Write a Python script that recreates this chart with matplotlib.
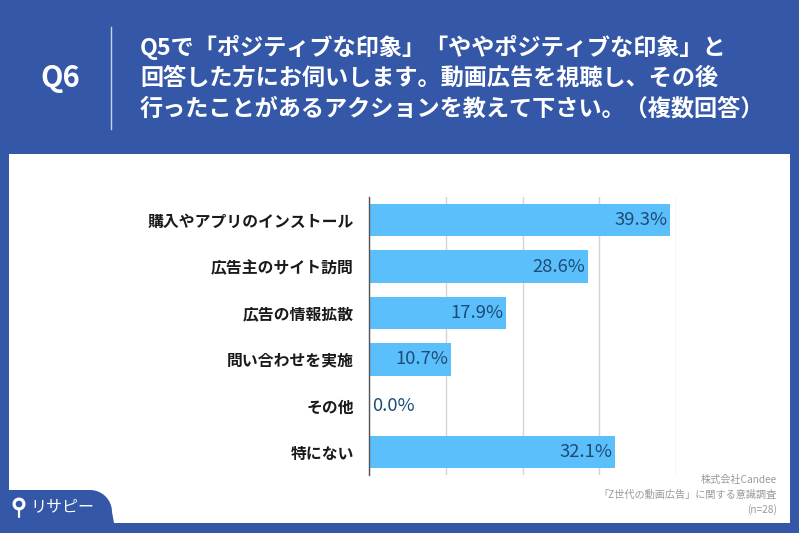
import matplotlib
matplotlib.use("Agg")
import matplotlib.pyplot as plt
from matplotlib.patches import Rectangle, Polygon, Circle
import numpy as np

plt.rcParams['font.family'] = ['Noto Sans CJK JP', 'DejaVu Sans']

categories = ["購入やアプリのインストール", "広告主のサイト訪問", "広告の情報拡散",
              "問い合わせを実施", "その他", "特にない"]
values = [39.3, 28.6, 17.9, 10.7, 0.0, 32.1]
value_labels = ["39.3%", "28.6%", "17.9%", "10.7%", "0.0%", "32.1%"]
x_ticks = [0, 10, 20, 30, 40]

title_lines = ["Q5で「ポジティブな印象」「ややポジティブな印象」と",
               "回答した方にお伺いします。動画広告を視聴し、その後",
               "行ったことがあるアクションを教えて下さい。（複数回答）"]
q_label = "Q6"
source_lines = ["株式会社Candee", "「Z世代の動画広告」に関する意識調査", "(n=28)"]
logo_text = "リサピー"

BLUE = "#3457A7"
BAR = "#5BBFFB"
VAL = "#1D4C78"

W, H = 799, 533
fig = plt.figure(figsize=(W / 100, H / 100), dpi=100)
fig.patch.set_facecolor(BLUE)

# overlay in pixel coords
bg = fig.add_axes([0, 0, 1, 1], zorder=0)
bg.set_xlim(0, W)
bg.set_ylim(H, 0)
bg.axis("off")

bg.add_patch(Rectangle((9, 154), 781, 369, facecolor="white", edgecolor="none"))

# tab in bottom-left
r = 22
theta = np.linspace(np.pi / 2, 0, 20)
arc = [(90 + r * np.cos(t), 490 + r - r * np.sin(t)) for t in theta]
tab_pts = [(0, 533), (0, 490)] + arc + [(114, 523), (114, 533)]
bg.add_patch(Polygon(tab_pts, closed=True, facecolor=BLUE, edgecolor="none"))

# logo
bg.add_patch(Circle((19, 504), 6.5, facecolor="white", edgecolor="none"))
bg.add_patch(Circle((19, 504), 3.3, facecolor=BLUE, edgecolor="none"))
bg.plot([19, 19], [510, 517], color="white", lw=1.6, solid_capstyle="round")
bg.text(30, 507, logo_text, color="white", fontsize=11.5, va="center", ha="left")

# header
bg.text(60, 78, q_label, color="white", fontsize=21, fontweight="bold",
        ha="center", va="center")
bg.plot([111, 111], [27, 129], color="#c8d2ea", lw=1)
for i, line in enumerate(title_lines):
    bg.text(140, 47 + 31 * i, line, color="white", fontsize=16.7,
            fontweight="bold", ha="left", va="center")

# source
for i, line in enumerate(source_lines):
    bg.text(777, 480 + 15 * i, line, color="#9a9a9a", fontsize=7.3,
            ha="right", va="center")

# chart
ax = fig.add_axes([369.3 / W, 1 - 475.4 / H, (675.7 - 369.3) / W, (475.4 - 197) / H],
                  zorder=1)
ax.set_facecolor("none")
y = np.arange(len(categories))
ax.barh(y, values, height=0.70, color=BAR, zorder=2)
ax.set_xlim(0, 40)
ax.set_ylim(len(categories) - 0.5, -0.5)
ax.set_xticks(x_ticks)
ax.set_xticklabels([])
ax.tick_params(axis="x", length=0)
ax.grid(axis="x", color="#d4d4d4", lw=1, zorder=0)
ax.set_yticks(y)
ax.set_yticklabels(categories, fontsize=11.4, fontweight="bold", color="#1a1a1a")
ax.tick_params(axis="y", length=0, pad=11)
for s in ["top", "right", "bottom"]:
    ax.spines[s].set_visible(False)
ax.spines["left"].set_color("#555555")
ax.spines["left"].set_linewidth(1)

for yi, v, lab in zip(y, values, value_labels):
    if v > 3:
        ax.annotate(lab, (v, yi), xytext=(-2, 0), textcoords="offset points",
                    ha="right", va="center", fontsize=13.3, color=VAL, zorder=3)
    else:
        ax.annotate(lab, (v, yi), xytext=(2, 0), textcoords="offset points",
                    ha="left", va="center", fontsize=13.3, color=VAL, zorder=3)

fig.savefig("out.png", dpi=100, facecolor=fig.get_facecolor())
